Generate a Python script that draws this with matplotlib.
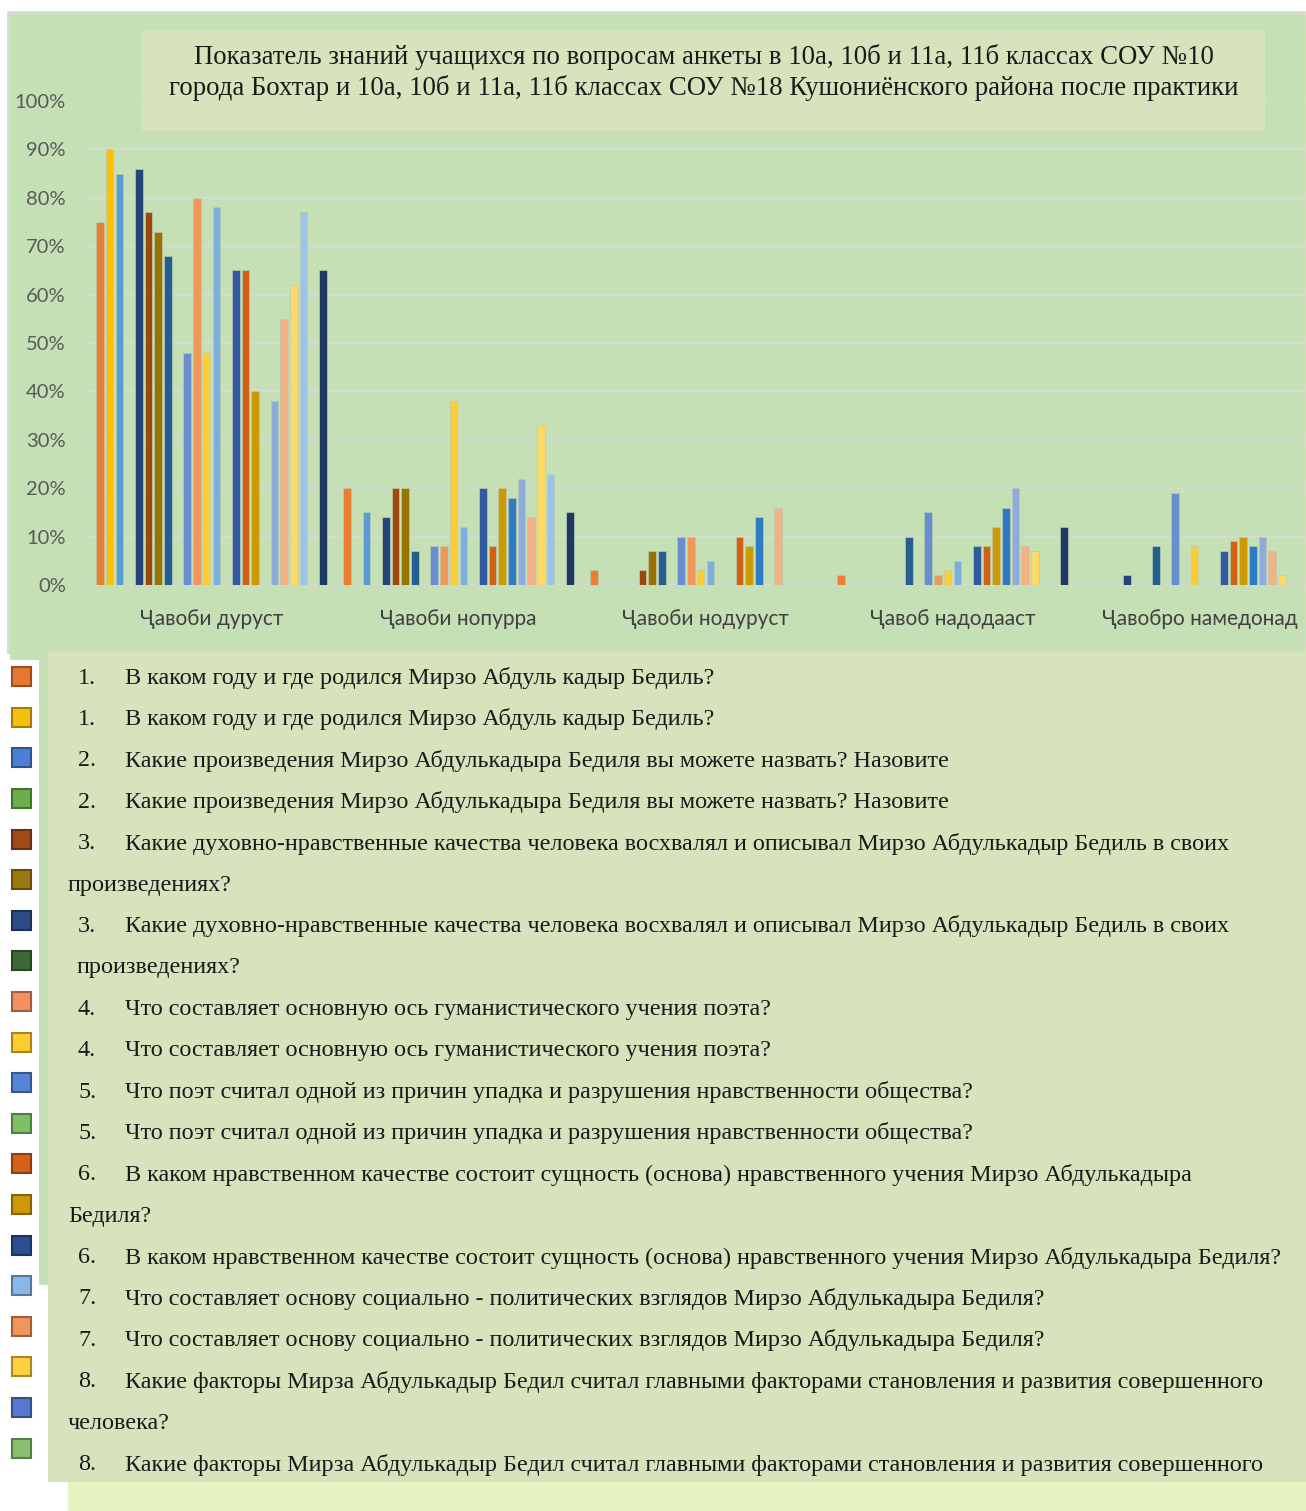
import numpy as np
import matplotlib
matplotlib.use("Agg")
import matplotlib.pyplot as plt
from matplotlib.patches import Rectangle

# categories on the x axis
categories = ["Ҷавоби дуруст", "Ҷавоби нопурра", "Ҷавоби нодуруст",
              "Ҷавоб надодааст", "Ҷавобро намедонад"]

# values (%) of the 24 series for each category
durust    = [75, 90, 85, 0, 86, 77, 73, 68, 0, 48, 80, 48, 78, 0, 65, 65, 40, 0, 38, 55, 62, 77, 0, 65]
nopurra   = [20, 0, 15, 0, 14, 20, 20, 7, 0, 8, 8, 38, 12, 0, 20, 8, 20, 18, 22, 14, 33, 23, 0, 15]
nodurust  = [3, 0, 0, 0, 0, 3, 7, 7, 0, 10, 10, 3, 5, 0, 0, 10, 8, 14, 0, 16, 0, 0, 0, 0]
nadodaast = [2, 0, 0, 0, 0, 0, 0, 10, 0, 15, 2, 3, 5, 0, 8, 8, 12, 16, 20, 8, 7, 0, 0, 12]
namedonad = [0, 0, 0, 0, 2, 0, 0, 8, 0, 19, 0, 8, 0, 0, 7, 9, 10, 8, 10, 7, 2, 0, 0, 8]

series_colors = ["#ED7D31", "#FFC000", "#5B9BD5", "#70AD47", "#264478", "#9E480E",
                 "#997300", "#255E91", "#43682B", "#698ED0", "#F1975A", "#FFCD33",
                 "#7CAFDD", "#8CC168", "#335AA1", "#D26012", "#CC9A00", "#2E7BC4",
                 "#8FAADC", "#F4B183", "#FFD966", "#9DC3E6", "#A9D18E", "#1F3864"]

yticks = [0, 10, 20, 30, 40, 50, 60, 70, 80, 90, 100]

title = ("Показатель знаний учащихся по вопросам анкеты в 10а, 10б и 11а, 11б классах СОУ №10\n"
         "города Бохтар и 10а, 10б и 11а, 11б классах СОУ №18 Кушониёнского района после практики")

# legend lines below the chart: (number, text, text x in px)
q1 = "В каком году и где родился Мирзо Абдуль кадыр Бедиль?"
q2 = "Какие произведения Мирзо Абдулькадыра Бедиля вы можете назвать? Назовите"
q3 = "Какие духовно-нравственные качества человека восхвалял и описывал Мирзо Абдулькадыр Бедиль в своих"
q4 = "Что составляет основную ось гуманистического учения поэта?"
q5 = "Что поэт считал одной из причин упадка и разрушения нравственности общества?"
q6a = "В каком нравственном качестве состоит сущность (основа) нравственного учения Мирзо Абдулькадыра"
q6b = "В каком нравственном качестве состоит сущность (основа) нравственного учения Мирзо Абдулькадыра Бедиля?"
q7 = "Что составляет основу социально - политических взглядов Мирзо Абдулькадыра Бедиля?"
q8 = "Какие факторы Мирза Абдулькадыр Бедил считал главными факторами становления и развития совершенного"
legend_lines = [
    ("1.", q1, 125), ("1.", q1, 125), ("2.", q2, 125), ("2.", q2, 125),
    ("3.", q3, 125), ("", "произведениях?", 68), ("3.", q3, 125), ("", "произведениях?", 77),
    ("4.", q4, 125), ("4.", q4, 125), ("5.", q5, 125), ("5.", q5, 125),
    ("6.", q6a, 125), ("", "Бедиля?", 68), ("6.", q6b, 125), ("7.", q7, 125),
    ("7.", q7, 125), ("8.", q8, 125), ("", "человека?", 68), ("8.", q8, 125),
]
legend_colors = ["#E8762F", "#F7C00E", "#4A80D8", "#6DAE4C", "#A04A18", "#9A7A10",
                 "#2C4C88", "#3E6838", "#F49060", "#FFCC30", "#5585D8", "#7CC068",
                 "#D66018", "#CC9A08", "#2B4E90", "#88B8E8", "#F0955C", "#FFD040",
                 "#5878D0", "#88C070"]

W, H = 1306, 1511
fig = plt.figure(figsize=(W / 100, H / 100), dpi=100, facecolor="white")


def box(x0, y0, x1, y1, color, z=-10, **kw):
    r = Rectangle((x0 / W, 1 - y1 / H), (x1 - x0) / W, (y1 - y0) / H,
                  transform=fig.transFigure, facecolor=color, zorder=z, **kw)
    fig.add_artist(r)


# backgrounds
box(8, 12, 1306, 652, "#C5E0B4", edgecolor="#D9D9D9", linewidth=2)
box(10, 652, 48, 1285, "#C5E0B4")
box(0, 660, 39, 1511, "white", z=-9)
box(48, 652, 1306, 1482, "#D6E3BC")
box(142, 30, 1265, 131, "#D6E3BD", z=1)
box(68, 1482, 1306, 1511, "#E6F2C0", z=5)

fig.text(704 / W, 1 - 72.5 / H, title, ha="center", va="center", fontsize=19.3,
         family="Liberation Serif", color="#1a1a1a", linespacing=1.29, zorder=3)

# chart
vals = np.array([durust, nopurra, nodurust, nadodaast, namedonad])
ax = fig.add_axes([88 / W, 1 - 585 / H, 1235 / W, 484 / H])
ax.set_facecolor("none")
x = np.arange(len(categories))
pitch = 9.7 / 247
bw = 7.6 / 247
n = vals.shape[1]
for j in range(n):
    ax.bar(x + (j - (n - 1) / 2) * pitch, vals[:, j], width=bw, color=series_colors[j],
           edgecolor="#B8CCB0", linewidth=0.5, zorder=2)

ax.set_xlim(-0.5, len(categories) - 0.5)
ax.set_ylim(0, 100)
ax.set_yticks(yticks)
ax.set_yticklabels([f"{v}%" for v in yticks], family=["Lato", "Noto Sans", "DejaVu Sans"],
                   fontsize=14.5, color="#595959")
ax.set_xticks(x)
ax.set_xticklabels(categories, family=["Lato", "Noto Sans", "DejaVu Sans"],
                   fontsize=15, color="#404040")
ax.tick_params(axis="y", length=0, pad=16)
ax.tick_params(axis="x", length=0, pad=17)
ax.grid(axis="y", color="#D9D9D9", linewidth=1.4)
ax.set_axisbelow(True)
for s in ax.spines.values():
    s.set_visible(False)

# legend list
for i, (num, text, tx) in enumerate(legend_lines):
    ty = 678 + i * 41.4
    if num:
        fig.text(78 / W, 1 - ty / H, num, ha="left", va="center", fontsize=17.4,
                 family="Liberation Serif", color="#1a1a1a")
    fig.text(tx / W, 1 - ty / H, text, ha="left", va="center", fontsize=17.4,
             family="Liberation Serif", color="#1a1a1a")

for i, c in enumerate(legend_colors):
    cy = 676.7 + i * 40.6
    edge = tuple(v * 0.65 for v in matplotlib.colors.to_rgb(c))
    box(12, cy - 9.5, 31, cy + 9.5, c, z=3, edgecolor=edge, linewidth=1.5)

fig.savefig("out.png", dpi=100, facecolor="white")
